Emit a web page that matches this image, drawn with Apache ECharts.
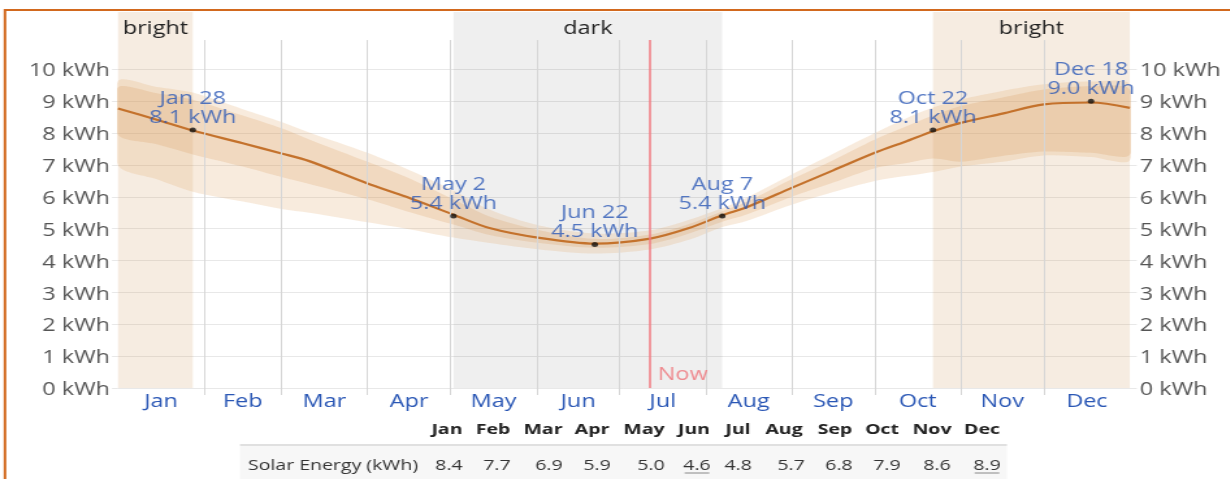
<!DOCTYPE html>
<html>
<head>
<meta charset="utf-8">
<title>Solar energy</title>
<script src="https://cdn.jsdelivr.net/npm/echarts@6/dist/echarts.min.js"></script>
<style>
  html, body { margin: 0; padding: 0; background: #fff; overflow: hidden; }
  /* the source picture is stretched sideways, so draw narrow and widen */
  #chart { width: 946px; height: 479px; transform: scaleX(1.3); transform-origin: 0 0; }
</style>
</head>
<body>
<div id="chart"></div>
<script>
// day of the year (0 = Jan 1) of each sample
var days   = [0, 14, 27, 45, 59, 69, 90, 104, 121, 134, 152, 172, 192, 206, 218, 227, 243, 258, 273, 284, 294, 304, 319, 334, 351, 365];
// daily solar energy, kWh
var median = [8.77, 8.42, 8.08, 7.68, 7.36, 7.12, 6.42, 6.0, 5.44, 5.02, 4.71, 4.53, 4.69, 5.02, 5.42, 5.68, 6.28, 6.83, 7.38, 7.73, 8.06, 8.32, 8.61, 8.9, 8.96, 8.79];
var p90    = [9.63, 9.45, 9.27, 8.75, 8.35, 8.02, 7.38, 6.88, 6.2, 5.6, 5.1, 4.85, 4.95, 5.28, 5.65, 5.98, 6.7, 7.35, 8.0, 8.45, 8.8, 9.05, 9.32, 9.53, 9.62, 9.53];
var p75    = [9.43, 9.25, 9.05, 8.55, 8.15, 7.8, 7.1, 6.62, 5.92, 5.38, 4.95, 4.68, 4.82, 5.15, 5.55, 5.85, 6.55, 7.15, 7.8, 8.2, 8.55, 8.85, 9.12, 9.37, 9.47, 9.37];
var p25    = [7.95, 7.65, 7.33, 6.95, 6.62, 6.4, 5.92, 5.55, 5.13, 4.8, 4.55, 4.4, 4.52, 4.85, 5.22, 5.45, 6.0, 6.45, 6.9, 7.05, 7.2, 7.1, 7.28, 7.42, 7.38, 7.32];
var p10    = [7.0, 6.55, 6.16, 5.85, 5.62, 5.5, 5.2, 5.0, 4.72, 4.55, 4.35, 4.22, 4.35, 4.65, 5.05, 5.25, 5.75, 6.15, 6.5, 6.65, 6.78, 6.95, 7.1, 7.3, 7.25, 7.15];

var keyNames  = ['Jan 28', 'May 2', 'Jun 22', 'Aug 7', 'Oct 22', 'Dec 18'];
var keyDays   = [27, 121, 172, 218, 294, 351];
var keyValues = [8.1, 5.4, 4.5, 5.4, 8.1, 9.0];

var bandNames  = ['bright', 'dark', 'bright'];
var bandStarts = [0, 121, 294];
var bandEnds   = [27, 218, 365];

var nowDay = 192;

var months      = ['Jan', 'Feb', 'Mar', 'Apr', 'May', 'Jun', 'Jul', 'Aug', 'Sep', 'Oct', 'Nov', 'Dec'];
var monthStarts = [0, 31, 59, 90, 120, 151, 181, 212, 243, 273, 304, 334, 365];
var yTicks      = [0, 1, 2, 3, 4, 5, 6, 7, 8, 9, 10];

var tableLabel  = 'Solar Energy (kWh)';
var tableValues = [8.4, 7.7, 6.9, 5.9, 5.0, 4.6, 4.8, 5.7, 6.8, 7.9, 8.6, 8.9];

// table column centres, in picture pixels
var headX = [447, 493, 543, 592, 644, 694, 738, 784, 835, 882, 932, 982];
var valX  = [449, 497, 549, 597, 651, 697, 738, 791, 839, 887, 937, 987];

var SX = 1.3;
function px(x) { return x / SX; }

function pairs(ys) { return days.map(function (d, i) { return [d, ys[i]]; }); }

// filled band between two percentile curves
function band(name, top, bottom, color) {
  return {
    name: name, type: 'custom', silent: true, clip: true, z: 3,
    data: [[0, 0]],
    renderItem: function (params, api) {
      var pts = [];
      days.forEach(function (d, i) { pts.push(api.coord([d, top[i]])); });
      for (var i = days.length - 1; i >= 0; i--) pts.push(api.coord([days[i], bottom[i]]));
      return { type: 'polygon', shape: { points: pts, smooth: 0.3 }, style: { fill: color } };
    }
  };
}

var monthMids  = months.map(function (m, i) { return (monthStarts[i] + monthStarts[i + 1]) / 2; });
var monthLines = monthStarts.slice(1, 12);
var lineTop = 10.92;

var font = 'Open Sans';
var gridColor = '#e8e8e8';
var monthLineColor = '#d6d6d6';
var blue = '#2a57b5';

var chart = echarts.init(document.getElementById('chart'));

var minI = tableValues.indexOf(Math.min.apply(null, tableValues));
var maxI = tableValues.indexOf(Math.max.apply(null, tableValues));

var graphics = [
  { type: 'polyline', silent: true, shape: { points: [[px(5), 479], [px(5), 10], [946, 10]] },
    style: { stroke: '#d2691e', lineWidth: 2, fill: null } },
  { type: 'rect', silent: true, shape: { x: px(240), y: 446, width: px(1007 - 240), height: 33 },
    style: { fill: '#f7f7f7' } },
  { type: 'line', silent: true, shape: { x1: px(240), y1: 445, x2: px(1007), y2: 445 },
    style: { stroke: '#e0e0e0', lineWidth: 2 } },
  { type: 'text', silent: true, x: px(248), y: 466,
    style: { text: tableLabel, fontFamily: font, fontSize: 15, fill: '#333', align: 'left', verticalAlign: 'middle' } }
];
months.forEach(function (m, i) {
  graphics.push({ type: 'text', silent: true, x: px(headX[i]), y: 430,
    style: { text: m, fontFamily: font, fontSize: 15, fontWeight: 'bold', fill: '#222', align: 'center', verticalAlign: 'middle' } });
  graphics.push({ type: 'text', silent: true, x: px(valX[i]), y: 466,
    style: { text: tableValues[i].toFixed(1), fontFamily: font, fontSize: 15, fill: '#333', align: 'center', verticalAlign: 'middle' } });
});
[minI, maxI].forEach(function (i) {
  graphics.push({ type: 'line', silent: true, shape: { x1: px(valX[i]) - 9.5, y1: 473, x2: px(valX[i]) + 9.5, y2: 473 },
    style: { stroke: '#888', lineWidth: 1 } });
});

var yAxisBase = {
  type: 'value', min: 0, max: 11.8, interval: 1,
  axisLine: { show: false },
  axisLabel: {
    customValues: yTicks,
    formatter: function (v) { return v <= 10 ? '{t|' + v + ' kWh}' : ''; },
    rich: { t: { fontSize: 18, color: '#555', fontFamily: font, padding: [4, 0, 0, 0] } }
  }
};

var option = {
  animation: false,
  textStyle: { fontFamily: font },
  grid: { left: px(118), right: px(100), top: 12, bottom: 91 },
  xAxis: {
    type: 'value', min: 0, max: 365,
    axisLine: { show: false },
    splitLine: { show: false },
    axisTick: { show: true, customValues: monthLines, length: 7, lineStyle: { color: monthLineColor } },
    axisLabel: {
      customValues: monthMids, margin: 5, fontSize: 18, color: blue, fontFamily: font,
      formatter: function (v) {
        var best = 0;
        monthMids.forEach(function (m, i) { if (Math.abs(m - v) < Math.abs(monthMids[best] - v)) best = i; });
        return months[best];
      }
    }
  },
  yAxis: [
    echarts.util.merge({
      position: 'left',
      axisTick: { show: true, customValues: yTicks, length: px(6), lineStyle: { color: gridColor } },
      axisLabel: { margin: px(8) },
      splitLine: { show: true, lineStyle: { color: yTicks.map(function () { return gridColor; }).concat(['rgba(0,0,0,0)', 'rgba(0,0,0,0)']) } }
    }, yAxisBase, false),
    echarts.util.merge({
      position: 'right',
      axisTick: { show: true, customValues: yTicks, length: px(7), lineStyle: { color: gridColor } },
      axisLabel: { margin: px(10) },
      splitLine: { show: false }
    }, yAxisBase, false)
  ],
  graphic: graphics,
  series: [
    {
      name: 'frame', type: 'line', data: pairs(median), symbol: 'none', z: 1, silent: true,
      lineStyle: { opacity: 0 },
      markArea: {
        silent: true,
        label: { show: true, position: 'insideTop', distance: 8, fontSize: 18, color: '#222', fontFamily: font },
        data: bandNames.map(function (n, i) {
          return [
            { name: n, xAxis: bandStarts[i], itemStyle: { color: n === 'dark' ? 'rgba(0,0,0,0.063)' : 'rgba(210,160,105,0.2)' } },
            { xAxis: bandEnds[i] }
          ];
        })
      },
      markLine: {
        silent: true, symbol: 'none', animation: false,
        label: { show: false },
        lineStyle: { color: monthLineColor, width: 1, type: 'solid' },
        data: monthLines.map(function (d) { return [{ coord: [d, 0] }, { coord: [d, lineTop] }]; })
      }
    },
    band('p10-p90', p90, p10, 'rgba(225,165,100,0.22)'),
    band('p25-p75', p75, p25, 'rgba(215,150,85,0.22)'),
    { name: 'median', type: 'line', data: pairs(median), symbol: 'none', smooth: 0.3, silent: true, z: 4,
      lineStyle: { color: '#c4722c', width: 2.2 } },
    {
      name: 'now', type: 'scatter', data: [[nowDay, 0]], symbolSize: 1, silent: true, z: 5,
      itemStyle: { color: 'rgba(0,0,0,0)' },
      label: { show: true, position: 'right', distance: px(7), offset: [0, -13], formatter: 'Now',
        fontSize: 18, color: '#ee7077', fontFamily: font },
      markLine: {
        silent: true, symbol: 'none', animation: false,
        label: { show: false },
        lineStyle: { color: '#f07a80', width: 1.5, type: 'solid' },
        data: [[{ coord: [nowDay, 0] }, { coord: [nowDay, lineTop] }]]
      }
    },
    {
      name: 'key', type: 'scatter', silent: true, z: 10,
      data: keyDays.map(function (d, i) { return [d, keyValues[i]]; }),
      symbolSize: 5, itemStyle: { color: '#111' },
      label: {
        show: true, position: 'top', distance: 0.5, fontSize: 18, lineHeight: 19, color: blue, fontFamily: font,
        formatter: function (p) { return keyNames[p.dataIndex] + '\n' + p.value[1].toFixed(1) + ' kWh'; }
      }
    }
  ]
};

chart.setOption(option);
</script>
</body>
</html>
